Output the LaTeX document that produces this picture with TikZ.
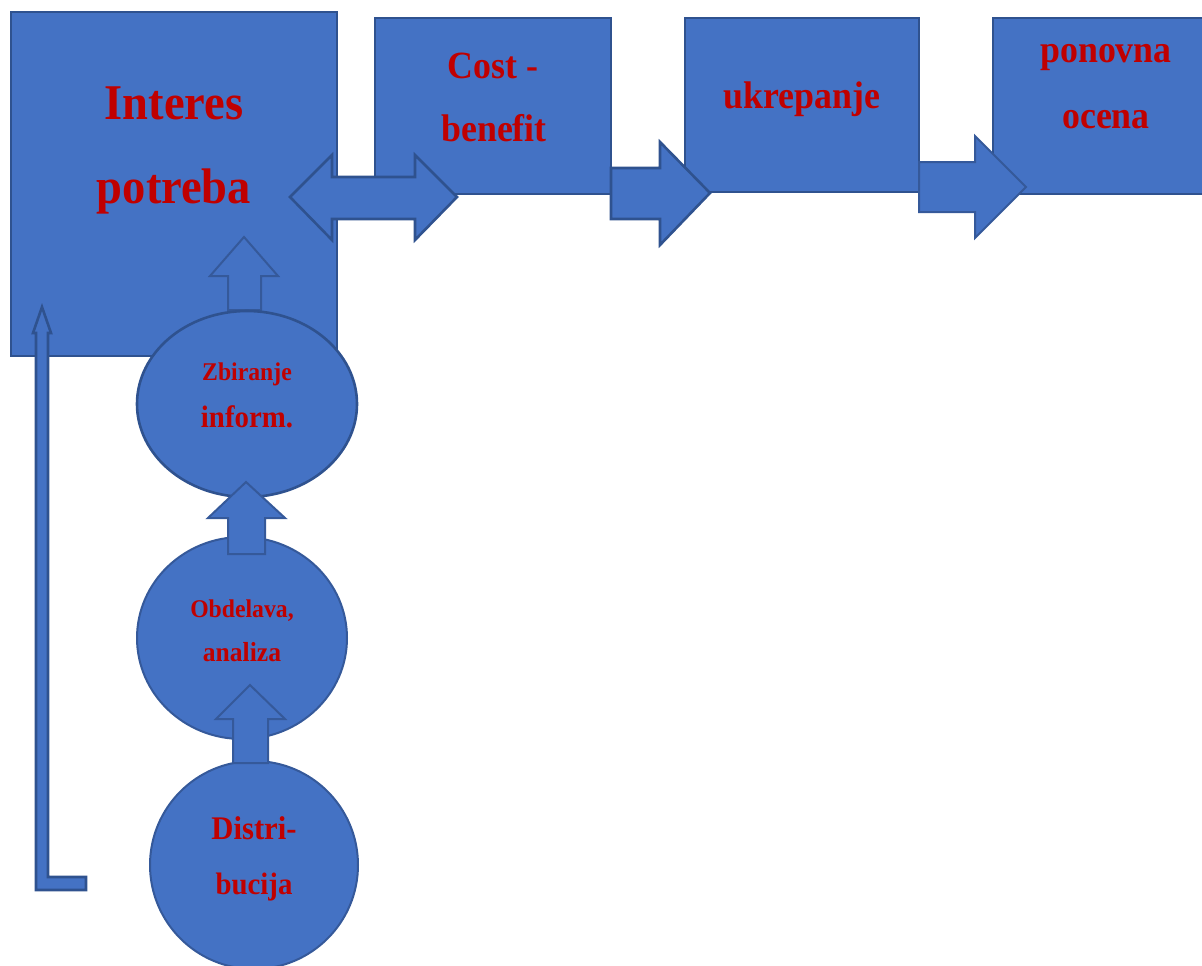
\documentclass[tikz,border=0pt]{standalone}
\usepackage{fontspec}
\setmainfont{Liberation Serif}[FakeStretch=0.93]
\usetikzlibrary{shapes.geometric}
\definecolor{bfill}{HTML}{4472C4}
\definecolor{bline}{HTML}{2F528F}
\definecolor{bline2}{HTML}{35599A}
\definecolor{tred}{HTML}{C00000}
\tikzset{
  box/.style={draw=bline, fill=bfill, line width=2.6pt, inner sep=0pt, outer sep=0pt, anchor=north west},
  blk/.style={draw=bline, fill=bfill, line width=2.6pt, line join=miter},
  blkthin/.style={draw=bline2, fill=bfill, line width=2pt, line join=miter},
  ell/.style={ellipse, draw=bline, fill=bfill, line width=2.6pt, inner sep=0pt, outer sep=0pt},
  ellthin/.style={ellipse, draw=bline2, fill=bfill, line width=2pt, inner sep=0pt, outer sep=0pt},
  lbl/.style={text=tred, anchor=base, inner sep=0pt, outer sep=0pt},
}
\newcommand{\fsz}[1]{\fontsize{#1}{#1}\selectfont\bfseries}
\begin{document}
\begin{tikzpicture}[x=1pt,y=-1pt]
\useasboundingbox (0,0) rectangle (1202,966);
% boxes
\node[box, minimum width=326pt, minimum height=344pt] (interes) at (11,12) {};
\node[box, minimum width=236pt, minimum height=176pt] (cost) at (375,18) {};
\node[box, minimum width=234pt, minimum height=174pt] (ukrep) at (685,18) {};
\node[box, minimum width=230pt, minimum height=176pt] (ponov) at (993,18) {};
% block arrows between boxes
\draw[blk] (290,197) -- (332,155) -- (332,177) -- (415,177) -- (415,155) -- (457,197)
  -- (415,240) -- (415,219) -- (332,219) -- (332,240) -- cycle;
\draw[blk] (611,168) -- (660,168) -- (660,142) -- (710,193) -- (660,245) -- (660,219) -- (611,219) -- cycle;
\draw[blkthin] (919,162) -- (975,162) -- (975,136) -- (1026,187) -- (975,238) -- (975,212) -- (919,212) -- cycle;
% up arrow into Interes box
\draw[blkthin] (244,237) -- (278,276) -- (261,276) -- (261,310) -- (228,310) -- (228,276) -- (210,276) -- cycle;
% L-shaped feedback arrow
\draw[blk] (42,307) -- (51,333) -- (48,333) -- (48,877) -- (86,877) -- (86,890) -- (36,890) -- (36,333) -- (33,333) -- cycle;
% ellipses / circles
\node[ell, minimum width=220pt, minimum height=186pt] (zbir) at (247,404) {};
\node[ellthin, minimum width=210pt, minimum height=202pt] (obde) at (242,638) {};
\draw[blkthin] (246,482) -- (285,518) -- (265,518) -- (265,554) -- (228,554) -- (228,518) -- (208,518) -- cycle;
\node[ellthin, minimum width=208pt, minimum height=208pt] (distr) at (254,865) {};
\draw[blkthin] (250,685) -- (285,719) -- (268,719) -- (268,763) -- (233,763) -- (233,719) -- (216,719) -- cycle;
% labels
\node[lbl, font=\fsz{50}] (t1a) at (174,119) {Interes};
\node[lbl, font=\fsz{50}] (t1b) at (174,203) {potreba};
\node[lbl, font=\fsz{38.5}] (t2a) at (493,78) {Cost -};
\node[lbl, font=\fsz{38.5}] (t2b) at (494,141) {benefit};
\node[lbl, font=\fsz{38.5}] (t3a) at (802,108) {ukrepanje};
\node[lbl, font=\fsz{38.5}] (t4a) at (1106,63) {ponovna};
\node[lbl, font=\fsz{38.5}] (t4b) at (1106,128) {ocena};
\node[lbl, font=\fsz{25.5}] (t5a) at (247,380) {Zbiranje};
\node[lbl, font=\fsz{31}] (t5b) at (247,427) {inform.};
\node[lbl, font=\fsz{25.5}] (t6a) at (242,617) {Obdelava,};
\node[lbl, font=\fsz{27.5}] (t6b) at (242,661) {analiza};
\node[lbl, font=\fsz{33}] (t7a) at (254,839) {Distri-};
\node[lbl, font=\fsz{31}] (t7b) at (254,894) {bucija};
\end{tikzpicture}
\end{document}
